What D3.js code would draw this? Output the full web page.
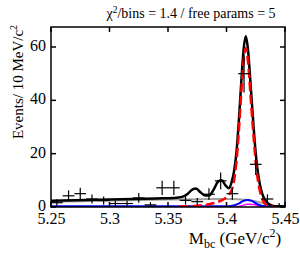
<!DOCTYPE html>
<html><head><meta charset="utf-8">
<script src="https://cdn.jsdelivr.net/npm/d3@7"></script>
<style>body{margin:0;background:#fff}svg{display:block}text{font-family:"Liberation Serif","Times New Roman",serif;fill:#000}</style>
</head><body><svg id="c" width="300" height="253"></svg>
<script>
// ---- data ----
const binCenters = [5.255,5.265,5.275,5.285,5.295,5.305,5.315,5.325,5.335,5.345,5.355,5.365,5.375,5.385,5.395,5.405,5.415,5.425,5.435,5.445];
const counts     = [1.6,4.2,5.0,3.0,2.4,1.3,1.3,3.4,0.8,7.2,7.2,2.5,2.0,4.8,9.8,5.0,50,16,3.0,0.5];
const binHalfWidth = 0.005;

const totalX = [5.25,5.28,5.31,5.34,5.355,5.362,5.367,5.371,5.374,5.378,5.382,5.385,5.389,5.393,5.396,5.399,5.402,5.4045,5.4065,5.4085,5.4105,5.4125,5.4145,5.4165,5.4185,5.4205,5.4225,5.4245,5.4265,5.4285,5.4305,5.4325,5.435,5.44,5.445,5.45];
const totalY = [2.3,2.6,2.9,3.2,3.4,3.8,5.0,6.6,6.9,5.4,4.3,4.3,6.5,9.6,10.0,8.2,7.0,9.5,13.5,20.5,32,46,58.5,64,58.5,46.5,34,22.5,14,8.5,5,3,1.5,0.4,0.1,0];

const sigX = [5.36,5.375,5.385,5.392,5.398,5.402,5.4045,5.4065,5.4085,5.4105,5.4125,5.4145,5.4165,5.4185,5.4205,5.4225,5.4245,5.4265,5.4285,5.4305,5.4325,5.435,5.44,5.45];
const sigY = [0.2,0.5,1.0,1.8,3.0,4.5,6.5,10,17,28,42,54,59.5,54,42,30,19,11,6,3,1.5,0.6,0.1,0];

const combX = [5.25,5.30,5.35,5.38,5.40,5.41,5.42,5.43,5.435,5.44,5.445,5.45];
const combY = [2.0,2.4,2.8,2.95,3.0,2.9,2.5,1.6,1.0,0.2,0,0];

const blueX = [5.25,5.40,5.405,5.41,5.414,5.418,5.422,5.426,5.43,5.435,5.45];
const blueY = [0.3,0.3,0.5,1.2,2.2,2.6,2.2,1.2,0.5,0.3,0.2];

const magX = [5.25,5.408,5.413,5.418,5.423,5.428,5.432,5.45];
const magY = [0,0,0.5,1.0,0.9,0.4,0,0];

const xTicks = [5.25,5.3,5.35,5.4,5.45];
const yTicks = [0,20,40,60];

// ---- layout ----
const svg = d3.select("#c");
const L=51,R=285,T=27,B=207;
const x = d3.scaleLinear().domain([5.25,5.45]).range([L,R]);
const y = d3.scaleLinear().domain([0,67.5]).range([B,T]);
svg.append("clipPath").attr("id","pc").append("rect").attr("x",L).attr("y",T).attr("width",R-L).attr("height",B-T);
const g = svg.append("g").attr("clip-path","url(#pc)");

function curve(xs,ys,color,w,dash){
  const line = d3.line().x((d,i)=>x(xs[i])).y((d,i)=>y(ys[i])).curve(d3.curveMonotoneX);
  const p = g.append("path").attr("d",line(ys)).attr("fill","none").attr("stroke",color).attr("stroke-width",w).attr("stroke-linejoin","round");
  if(dash) p.attr("stroke-dasharray",dash);
}
curve(combX,combY,"#a0a0a0",2);
curve(magX,magY,"#ff00ff",1.5);
curve(blueX,blueY,"#0000ff",2);
curve(totalX,totalY,"#000",2.5);
curve(sigX,sigY,"#ff0000",2.5,"9,4");

// data crosses
binCenters.forEach((c,i)=>{
  const v=counts[i], e=Math.max(Math.sqrt(v),1);
  g.append("line").attr("x1",x(c-binHalfWidth)).attr("x2",x(c+binHalfWidth)).attr("y1",y(v)).attr("y2",y(v)).attr("stroke","#000").attr("stroke-width",1.2);
  g.append("line").attr("x1",x(c)).attr("x2",x(c)).attr("y1",y(Math.max(v-e,0))).attr("y2",y(v+e)).attr("stroke","#000").attr("stroke-width",1.2);
});

// frame and ticks
svg.append("rect").attr("x",L).attr("y",T).attr("width",R-L).attr("height",B-T).attr("fill","none").attr("stroke","#000").attr("stroke-width",1.5);
const ax = svg.append("g").attr("transform",`translate(0,${B})`).call(d3.axisBottom(x).tickValues(xTicks).tickSize(0).tickPadding(6).tickFormat(d3.format(".2~f")));
ax.select(".domain").remove();
ax.selectAll("text").attr("font-size",16).attr("font-family","Liberation Serif");
const ay = svg.append("g").attr("transform",`translate(${L},0)`).call(d3.axisLeft(y).tickValues(yTicks).tickSize(0).tickPadding(5));
ay.select(".domain").remove();
ay.selectAll("text").attr("font-size",16).attr("font-family","Liberation Serif").attr("dy","0.22em");
const tk = svg.append("g").attr("stroke","#000").attr("stroke-width",1.5);
xTicks.forEach(t=>{tk.append("line").attr("x1",x(t)).attr("x2",x(t)).attr("y1",B).attr("y2",B-5);tk.append("line").attr("x1",x(t)).attr("x2",x(t)).attr("y1",T).attr("y2",T+5);});
yTicks.forEach(t=>{tk.append("line").attr("x1",L).attr("x2",L+5).attr("y1",y(t)).attr("y2",y(t));tk.append("line").attr("x1",R).attr("x2",R-5).attr("y1",y(t)).attr("y2",y(t));});

// titles
const t1 = svg.append("text").attr("x",191).attr("y",18).attr("text-anchor","middle").attr("font-size",14);
t1.append("tspan").text("χ");
t1.append("tspan").attr("font-size",9.5).attr("dy",-5).text("2");
t1.append("tspan").attr("dy",5).text("/bins = 1.4 / free params = 5");

const xt = svg.append("text").attr("x",235).attr("y",244).attr("text-anchor","middle").attr("font-size",17);
xt.append("tspan").text("M");
xt.append("tspan").attr("font-size",12).attr("dy",4).text("bc");
xt.append("tspan").attr("dy",-4).text(" (GeV/c");
xt.append("tspan").attr("font-size",12).attr("dy",-7).text("2");
xt.append("tspan").attr("dy",7).text(")");

const yt = svg.append("text").attr("transform","translate(23,82) rotate(-90)").attr("text-anchor","middle").attr("font-size",15);
yt.append("tspan").text("Events/ 10 MeV/c");
yt.append("tspan").attr("font-size",10).attr("dy",-6).text("2");
</script></body></html>
